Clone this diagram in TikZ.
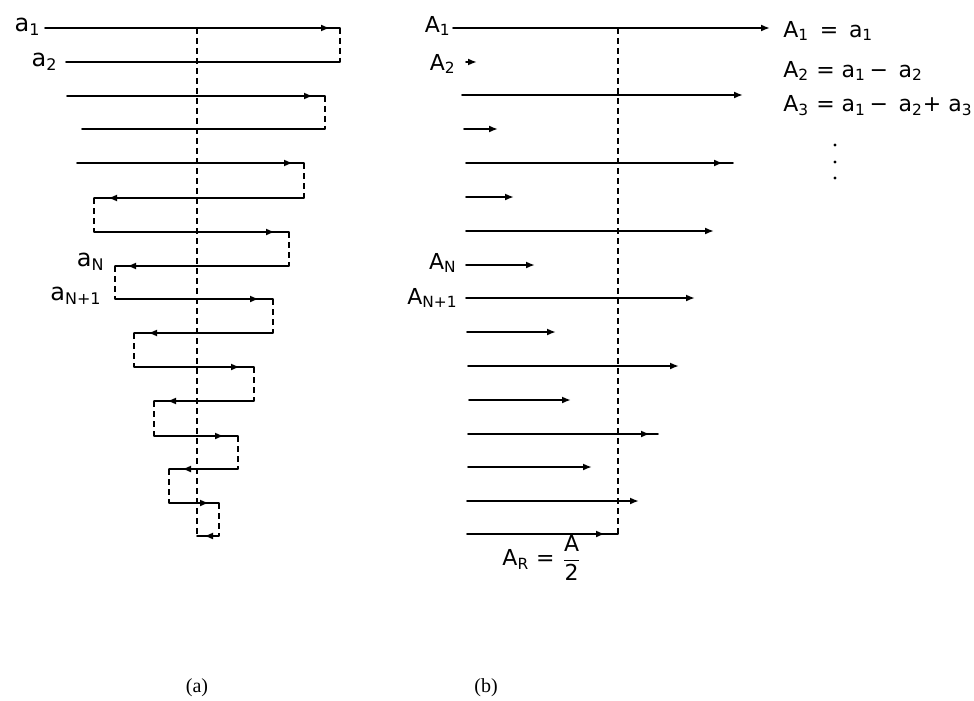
\documentclass[tikz,border=0pt]{standalone}
\usepackage{fontspec}
\usepackage{tikz}
\usetikzlibrary{arrows.meta,decorations.markings}
\newfontfamily\lettering{DejaVu Sans}
\newfontfamily\capfont{Liberation Serif}
\tikzset{
  rung/.style={line width=0.9pt,line cap=round},
  fold/.style={line width=0.9pt,dash pattern=on 3pt off 2pt},
  tipat/.style={postaction={decorate},decoration={markings,
      mark=at position #1 with {\arrow{Latex[length=4.5pt,width=3.5pt]}}}},
  biglbl/.style={font=\lettering\fontsize{12}{14}\selectfont,inner sep=1pt},
  lbl/.style={font=\lettering\fontsize{11}{13}\selectfont,inner sep=1pt},
  caplbl/.style={font=\capfont\fontsize{10}{12}\selectfont}
}

\begin{document}
\begin{tikzpicture}[x=0.5pt,y=-0.5pt,>={Latex[length=4.5pt,width=3.5pt]}]
  \useasboundingbox (0,0) rectangle (974,701);

  % (a) folded terms
  \draw[fold] (197,28) -- (197,536);
  \draw[rung,tipat=-5pt] (45,28) -- (340,28);
  \draw[fold] (340,28) -- (340,62);
  \draw[rung] (340,62) -- (66,62);
  \draw[rung,tipat=-6pt] (67,96) -- (325,96);
  \draw[fold] (325,96) -- (325,129);
  \draw[rung] (325,129) -- (82,129);
  \draw[rung,tipat=-5.5pt] (77,163) -- (304,163);
  \draw[fold] (304,163) -- (304,198);
  \draw[rung,tipat=-7pt] (304,198) -- (94,198);
  \draw[fold] (94,198) -- (94,232);
  \draw[rung,tipat=-7pt] (94,232) -- (289,232);
  \draw[fold] (289,232) -- (289,266);
  \draw[rung,tipat=-6pt] (289,266) -- (115,266);
  \draw[fold] (115,266) -- (115,299);
  \draw[rung,tipat=-7pt] (115,299) -- (273,299);
  \draw[fold] (273,299) -- (273,333);
  \draw[rung,tipat=-7pt] (273,333) -- (134,333);
  \draw[fold] (134,333) -- (134,367);
  \draw[rung,tipat=-7pt] (134,367) -- (254,367);
  \draw[fold] (254,367) -- (254,401);
  \draw[rung,tipat=-6.5pt] (254,401) -- (154,401);
  \draw[fold] (154,401) -- (154,436);
  \draw[rung,tipat=-7pt] (154,436) -- (238,436);
  \draw[fold] (238,436) -- (238,469);
  \draw[rung,tipat=-6.5pt] (238,469) -- (169,469);
  \draw[fold] (169,469) -- (169,503);
  \draw[rung,tipat=-5pt] (169,503) -- (219,503);
  \draw[fold] (219,503) -- (219,536);
  \draw[rung,tipat=-3.5pt] (219,536) -- (197,536);

  \node[biglbl,anchor=east] (a1) at (43,27) {a\textsubscript{1}};
  \node[biglbl,anchor=east] (a2) at (60,62) {a\textsubscript{2}};
  \node[biglbl,anchor=east] (aN) at (107,262) {a\textsubscript{N}};
  \node[biglbl,anchor=east] (aN1) at (104,296) {a\textsubscript{N+1}};

  % (b) partial sums
  \draw[fold] (618,28) -- (618,534);
  \draw[rung,->] (453,28) -- (770,28);
  \draw[rung,->] (466,62) -- (477,62);
  \draw[rung,->] (462,95) -- (743,95);
  \draw[rung,->] (464,129) -- (498,129);
  \draw[rung,tipat=-5pt] (466,163) -- (733,163);
  \draw[rung,->] (466,197) -- (514,197);
  \draw[rung,->] (466,231) -- (714,231);
  \draw[rung,->] (466,265) -- (535,265);
  \draw[rung,->] (466,298) -- (695,298);
  \draw[rung,->] (467,332) -- (556,332);
  \draw[rung,->] (468,366) -- (679,366);
  \draw[rung,->] (469,400) -- (571,400);
  \draw[rung,tipat=-4pt] (468,434) -- (658,434);
  \draw[rung,->] (468,467) -- (592,467);
  \draw[rung,->] (467,501) -- (639,501);
  \draw[rung,tipat=-6.5pt] (467,534) -- (618,534);

  \node[lbl,anchor=east] (A1) at (453,26) {A\textsubscript{1}};
  \node[lbl,anchor=east] (A2) at (458,64) {A\textsubscript{2}};
  \node[lbl,anchor=east] (AN) at (459,263) {A\textsubscript{N}};
  \node[lbl,anchor=east] (AN1) at (460,298) {A\textsubscript{N+1}};

  \node[lbl,anchor=west] (s1) at (781,31) {A\textsubscript{1} \,=\, a\textsubscript{1}};
  \node[lbl,anchor=west] (s2) at (781,71) {A\textsubscript{2} = a\textsubscript{1}\,− \,a\textsubscript{2}};
  \node[lbl,anchor=west] (s3) at (781,106) {A\textsubscript{3} = a\textsubscript{1}\,− \,a\textsubscript{2}+ a\textsubscript{3}};
  \fill (835,145) circle (0.8pt) (835,162) circle (0.8pt) (835,178) circle (0.8pt);

  \node[lbl] (AR) at (542,558) {A\textsubscript{R} = $\displaystyle\frac{\mbox{A}}{\mbox{2}}$};

  % captions
  \node[caplbl] (capa) at (197,688) {(a)};
  \node[caplbl] (capb) at (486,688) {(b)};
\end{tikzpicture}
\end{document}
